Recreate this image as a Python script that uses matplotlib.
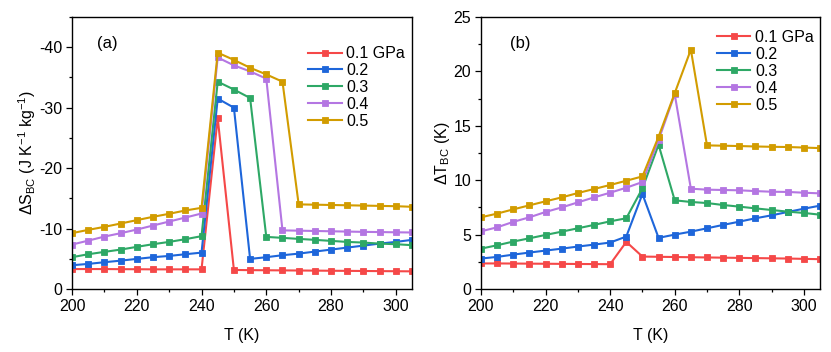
import matplotlib
matplotlib.use("Agg")
import matplotlib.pyplot as plt
from matplotlib.ticker import MultipleLocator

plt.rcParams['font.family'] = ['Liberation Sans', 'DejaVu Sans']
plt.rcParams['axes.unicode_minus'] = False
plt.rcParams['mathtext.fontset'] = 'custom'
plt.rcParams['mathtext.rm'] = 'Liberation Sans'
plt.rcParams['mathtext.it'] = 'Liberation Sans'

T = [200, 205, 210, 215, 220, 225, 230, 235, 240, 245, 250, 255,
     260, 265, 270, 275, 280, 285, 290, 295, 300, 305]
labels = ['0.1 GPa', '0.2', '0.3', '0.4', '0.5']
colors = ['#F54848', '#1E66DA', '#2EA866', '#B476E2', '#D29C00']

# Panel (a): entropy change (J K^-1 kg^-1)
dS_01 = [-3.30, -3.30, -3.30, -3.28, -3.27, -3.25, -3.25, -3.25, -3.25, -28.3, -3.15, -3.12,
         -3.10, -3.08, -3.06, -3.04, -3.02, -3.00, -2.98, -2.96, -2.94, -2.92]
dS_02 = [-3.93, -4.15, -4.43, -4.69, -4.98, -5.26, -5.47, -5.75, -6.02, -31.5, -30.0, -4.98,
         -5.26, -5.59, -5.85, -6.19, -6.52, -6.85, -7.18, -7.51, -7.79, -8.13]
dS_03 = [-5.26, -5.75, -6.14, -6.52, -6.97, -7.41, -7.79, -8.24, -8.74, -34.3, -33.0, -31.6,
         -8.62, -8.46, -8.29, -8.13, -7.96, -7.79, -7.68, -7.51, -7.41, -7.25]
dS_04 = [-7.35, -8.00, -8.67, -9.23, -9.83, -10.5, -11.16, -11.82, -12.49, -38.3, -37.0, -36.0,
         -34.8, -9.70, -9.65, -9.60, -9.55, -9.50, -9.45, -9.42, -9.38, -9.35]
dS_05 = [-9.24, -9.78, -10.28, -10.83, -11.39, -11.94, -12.44, -12.99, -13.43, -39.1, -37.9, -36.6,
         -35.5, -34.3, -14.0, -13.95, -13.9, -13.85, -13.8, -13.75, -13.7, -13.6]

# Panel (b): adiabatic temperature change (K)
dT_01 = [2.35, 2.35, 2.34, 2.33, 2.32, 2.31, 2.30, 2.29, 2.28, 4.33, 2.98, 2.96,
         2.94, 2.92, 2.90, 2.88, 2.86, 2.84, 2.82, 2.80, 2.77, 2.74]
dT_02 = [2.80, 2.95, 3.16, 3.35, 3.53, 3.71, 3.90, 4.08, 4.27, 4.82, 8.73, 4.70,
         5.00, 5.27, 5.58, 5.89, 6.19, 6.50, 6.77, 7.08, 7.38, 7.66]
dT_03 = [3.71, 4.02, 4.36, 4.66, 4.97, 5.27, 5.58, 5.89, 6.22, 6.50, 9.25, 13.26,
         8.15, 8.00, 7.90, 7.72, 7.57, 7.41, 7.26, 7.11, 6.99, 6.83]
dT_04 = [5.30, 5.67, 6.17, 6.59, 7.08, 7.50, 7.96, 8.42, 8.85, 9.31, 9.83, 13.7,
         17.9, 9.22, 9.13, 9.10, 9.07, 9.00, 8.94, 8.92, 8.85, 8.79]
dT_05 = [6.59, 6.93, 7.32, 7.69, 8.06, 8.42, 8.82, 9.19, 9.56, 9.95, 10.35, 14.0,
         18.0, 22.0, 13.2, 13.17, 13.14, 13.10, 13.07, 13.05, 13.00, 12.95]

fig = plt.figure(figsize=(8.31, 3.52), dpi=100)
axa = fig.add_axes([72 / 831, 1 - 289 / 352, 340 / 831, 272 / 352])
axb = fig.add_axes([481 / 831, 1 - 289 / 352, 339 / 831, 272 / 352])

fs = 11.5
for ax, series in ((axa, [dS_01, dS_02, dS_03, dS_04, dS_05]),
                   (axb, [dT_01, dT_02, dT_03, dT_04, dT_05])):
    for y, c, lab in zip(series, colors, labels):
        ax.plot(T, y, '-s', color=c, lw=1.5, ms=4.5, label=lab,
                markeredgewidth=0.6, markeredgecolor=c)
    ax.set_xlim(200, 305)
    ax.xaxis.set_major_locator(MultipleLocator(20))
    ax.xaxis.set_minor_locator(MultipleLocator(10))
    ax.tick_params(which='both', direction='out', labelsize=fs, width=0.9)
    ax.tick_params(which='major', length=4, pad=3)
    ax.tick_params(which='minor', length=2.5)
    for s in ax.spines.values():
        s.set_linewidth(1.0)
    ax.set_xlabel('T (K)', fontsize=fs, labelpad=10)
    ax.legend(frameon=False, fontsize=fs, handlelength=2.1, handletextpad=0.3,
              labelspacing=0.12, borderpad=0, borderaxespad=0,
              loc='upper left')

axa.set_ylim(0, -45)
axa.yaxis.set_major_locator(MultipleLocator(10))
axa.yaxis.set_minor_locator(MultipleLocator(5))
axa.set_ylabel(r'$\Delta$S$_{\mathrm{BC}}$ (J K$^{-1}$ kg$^{-1}$)', fontsize=fs, labelpad=0.5)
axa.legend_.set_bbox_to_anchor((0.694, 0.893), transform=axa.transAxes)
axa.text(0.075, 0.885, '(a)', transform=axa.transAxes, fontsize=fs + 0.5)

axb.set_ylim(0, 25)
axb.yaxis.set_major_locator(MultipleLocator(5))
axb.yaxis.set_minor_locator(MultipleLocator(2.5))
axb.set_ylabel(r'$\Delta$T$_{\mathrm{BC}}$ (K)', fontsize=fs, labelpad=1)
axb.legend_.set_bbox_to_anchor((0.696, 0.952), transform=axb.transAxes)
axb.text(0.085, 0.885, '(b)', transform=axb.transAxes, fontsize=fs + 0.5)

fig.savefig('out.png', dpi=100)
